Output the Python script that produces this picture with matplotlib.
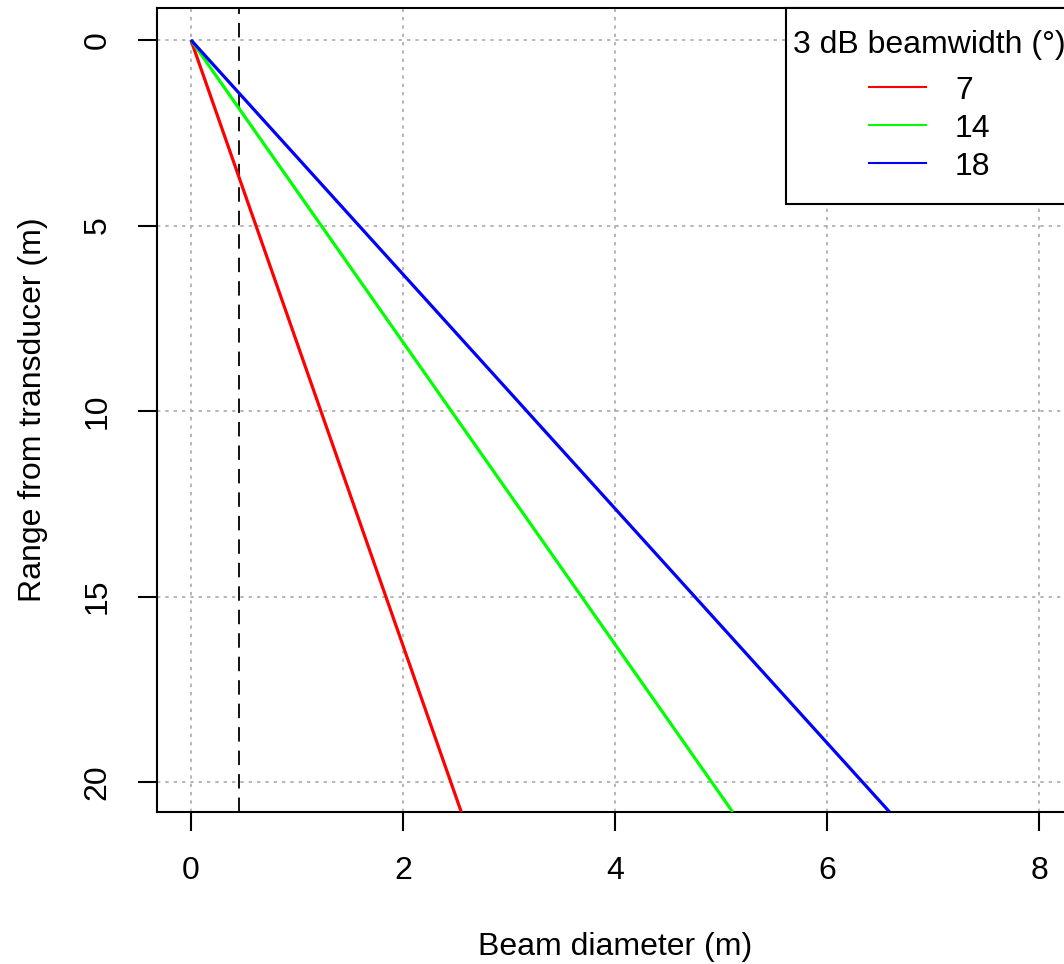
import matplotlib
matplotlib.use("Agg")
import matplotlib.pyplot as plt
from matplotlib.lines import Line2D
from matplotlib.offsetbox import DrawingArea

plt.rcParams["font.family"] = ["Liberation Sans", "DejaVu Sans"]

# beam widths (degrees) and the straight lines
beamwidths = ["7", "14", "18"]
colors = ["#FF0000", "#00FF00", "#0000FF"]
range_m = [0.0, 20.8]
diam_7 = [0.0, 2.55]
diam_14 = [0.0, 5.11]
diam_18 = [0.0, 6.59]
diameters = [diam_7, diam_14, diam_18]
marker_diam = 0.45

x_ticks = [0, 2, 4, 6, 8]
y_ticks = [0, 5, 10, 15, 20]

fig = plt.figure(figsize=(10.64, 9.64), dpi=100)
ax = fig.add_axes([157 / 1064, 1 - 812 / 964, (1073 - 157) / 1064, (812 - 8) / 964])

for d, c in zip(diameters, colors):
    ax.plot(d, range_m, color=c, linewidth=2.3, zorder=3, solid_capstyle="butt")

ax.axvline(marker_diam, color="black", linewidth=1.3, linestyle=(0, (8, 5)), zorder=2)

ax.set_xlim(-0.32, 8.32)
ax.set_ylim(20.8, -0.86)
ax.set_xticks(x_ticks)
ax.set_yticks(y_ticks)
ax.grid(True, color="#AAAAAA", linestyle=(0, (2, 3)), linewidth=1.2)
ax.set_axisbelow(True)

for s in ax.spines.values():
    s.set_linewidth(1.5)
ax.tick_params(labelsize=23, length=14, width=1.5, pad=18)
for lab in ax.get_yticklabels():
    lab.set_rotation(90)
    lab.set_va("center")

ax.set_xlabel("Beam diameter (m)", fontsize=23, labelpad=33)
ax.set_ylabel("Range from transducer (m)", fontsize=23, labelpad=25)

handles = [Line2D([], [], color=c, linewidth=1.5) for c in colors]
leg = ax.legend(handles, beamwidths, title="3 dB beamwidth (\u00b0)", loc="upper right",
                bbox_to_anchor=(1, 1), borderaxespad=0, fontsize=23, title_fontsize=23,
                fancybox=False, edgecolor="black", framealpha=1, handlelength=1.8,
                handletextpad=0.9, labelspacing=0.25, borderpad=0.22, alignment="center")
leg.get_frame().set_linewidth(1.5)
# narrow side padding but taller top/bottom padding, like R's legend box
box = leg._legend_box
box.sep = 11
box._children.insert(0, DrawingArea(1, 0))
box._children.append(DrawingArea(1, 0))

fig.savefig("out.png", dpi=100)
